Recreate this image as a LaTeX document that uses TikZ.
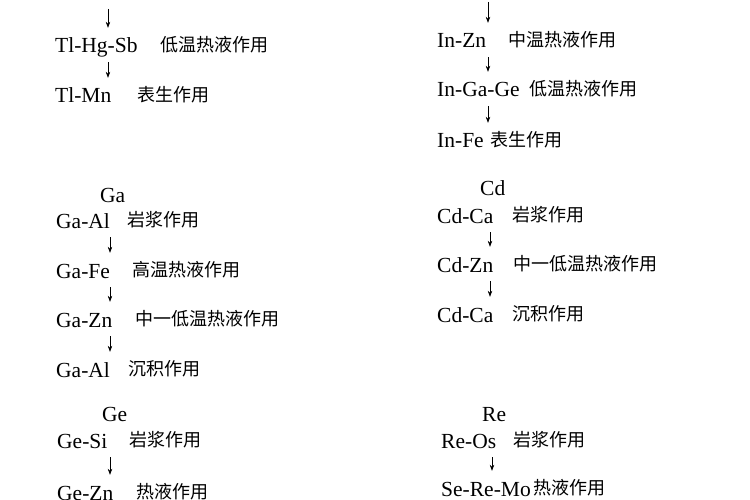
\documentclass[tikz,border=0pt]{standalone}
\usepackage{fontspec}
\setmainfont{Liberation Serif}
\newfontfamily\cjk{Noto Sans CJK SC}
\usetikzlibrary{arrows.meta}
\begin{document}
\begin{tikzpicture}[x=1pt, y=-1pt, inner sep=1pt,
    elem/.style={anchor=west, text height=18pt, text depth=2pt, font=\fontsize{21.5}{24}\selectfont},
    proc/.style={anchor=west, font=\cjk\fontsize{18}{20}\selectfont},
    arr/.style={-{Stealth[length=6pt,width=4.5pt]}, line width=.6pt, shorten <=6pt, shorten >=6pt}]
   \useasboundingbox (0,0) rectangle (750,500);
   % Tl
   \coordinate (tx) at (108,9);
   \node[elem] (t1) at (54,45) {Tl-Hg-Sb};
   \node[proc] (t1p) at (159,45) {低温热液作用};
   \node[elem] (t2) at (54,95) {Tl-Mn};
   \node[proc] (t2p) at (136,95) {表生作用};
   \draw[arr, shorten <=0pt] (tx) -- (t1.north -| tx);
   \draw[arr] (t1.south -| tx) -- (t2.north -| tx);
   % In
   \coordinate (ix) at (488,2);
   \node[elem] (i1) at (436,40) {In-Zn};
   \node[proc] (i1p) at (507,40) {中温热液作用};
   \node[elem] (i2) at (436,89) {In-Ga-Ge};
   \node[proc] (i2p) at (528,89) {低温热液作用};
   \node[elem] (i3) at (436,140) {In-Fe};
   \node[proc] (i3p) at (489,140) {表生作用};
   \draw[arr, shorten <=0pt] (ix) -- (i1.north -| ix);
   \draw[arr] (i1.south -| ix) -- (i2.north -| ix);
   \draw[arr] (i2.south -| ix) -- (i3.north -| ix);
   % Ga
   \coordinate (gx) at (110,0);
   \node[elem] (g0) at (99,195) {Ga};
   \node[elem] (g1) at (55,220) {Ga-Al};
   \node[proc] (g1p) at (126,220) {岩浆作用};
   \node[elem] (g2) at (55,270) {Ga-Fe};
   \node[proc] (g2p) at (131,270) {高温热液作用};
   \node[elem] (g3) at (55,319) {Ga-Zn};
   \node[proc] (g3p) at (134,319) {中一低温热液作用};
   \node[elem] (g4) at (55,369) {Ga-Al};
   \node[proc] (g4p) at (127,369) {沉积作用};
   \draw[arr] (g1.south -| gx) -- (g2.north -| gx);
   \draw[arr] (g2.south -| gx) -- (g3.north -| gx);
   \draw[arr] (g3.south -| gx) -- (g4.north -| gx);
   % Cd
   \coordinate (cx) at (490,0);
   \node[elem] (c0) at (479,188) {Cd};
   \node[elem] (c1) at (436,215) {Cd-Ca};
   \node[proc] (c1p) at (511,215) {岩浆作用};
   \node[elem] (c2) at (436,264) {Cd-Zn};
   \node[proc] (c2p) at (512,264) {中一低温热液作用};
   \node[elem] (c3) at (436,314) {Cd-Ca};
   \node[proc] (c3p) at (511,314) {沉积作用};
   \draw[arr] (c1.south -| cx) -- (c2.north -| cx);
   \draw[arr] (c2.south -| cx) -- (c3.north -| cx);
   % Ge
   \coordinate (ex) at (110,0);
   \node[elem] (e0) at (101,413) {Ge};
   \node[elem] (e1) at (56,440) {Ge-Si};
   \node[proc] (e1p) at (128,440) {岩浆作用};
   \node[elem] (e2) at (56,492) {Ge-Zn};
   \node[proc] (e2p) at (135,492) {热液作用};
   \draw[arr] (e1.south -| ex) -- (e2.north -| ex);
   % Re
   \coordinate (rx) at (492,0);
   \node[elem] (r0) at (481,413) {Re};
   \node[elem] (r1) at (440,440) {Re-Os};
   \node[proc] (r1p) at (512,440) {岩浆作用};
   \node[elem] (r2) at (440,488) {Se-Re-Mo};
   \node[proc] (r2p) at (532,488) {热液作用};
   \draw[arr] (r1.south -| rx) -- (r2.north -| rx);
\end{tikzpicture}
\end{document}
